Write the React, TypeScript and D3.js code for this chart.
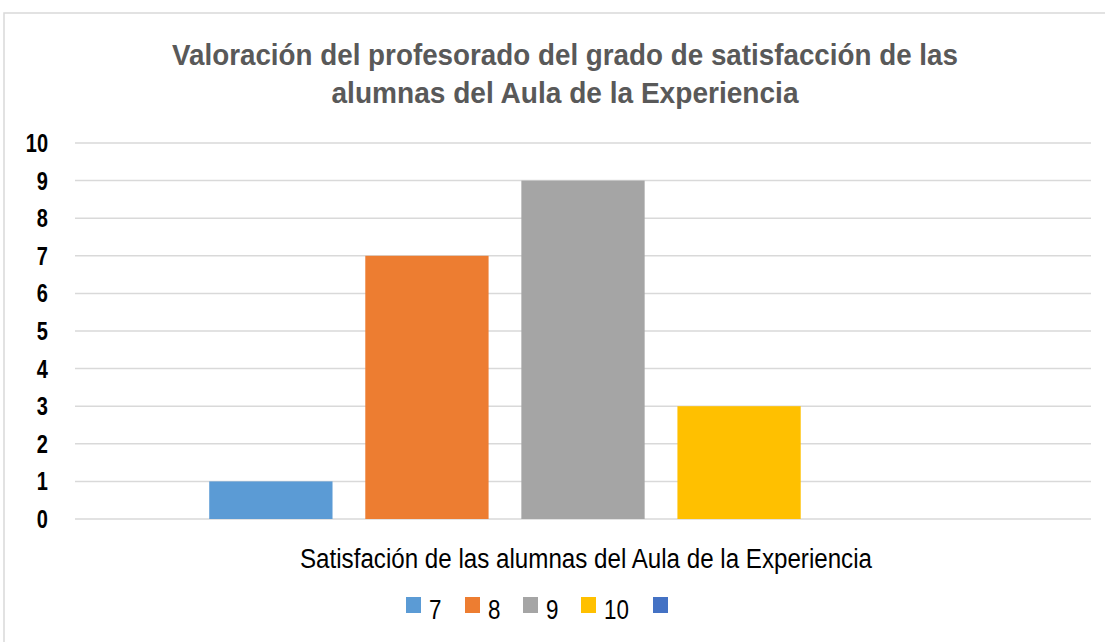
import React from "react";
import * as d3 from "d3";

const series = ["7", "8", "9", "10", ""];
const values = [1, 7, 9, 3, 0];
const colors = ["#5B9BD5", "#ED7D31", "#A5A5A5", "#FFC000", "#4472C4"];
const yTicks = [0, 1, 2, 3, 4, 5, 6, 7, 8, 9, 10];
const titleLines = [
  "Valoración del profesorado del grado de satisfacción de las",
  "alumnas del Aula de la Experiencia",
];
const titleWidths = [786, 467];
const xTitle = "Satisfación de las alumnas del Aula de la Experiencia";

const W = 1105;
const H = 642;
const plotLeft = 75;
const plotRight = 1091;
const plotTop = 143;
const plotBottom = 519;

export default function App() {
  const y = d3.scaleLinear().domain([0, 10]).range([plotBottom, plotTop]);
  const x = d3
    .scaleBand<string>()
    .domain(series.map((s, i) => String(i)))
    .range([plotLeft, plotRight])
    .paddingInner(0.21)
    .paddingOuter(0.86);

  const legendSquareX = [406, 465, 523, 581, 653];
  const font = "'Liberation Sans', Arial, sans-serif";

  return (
    <svg
      width={W}
      height={H}
      style={{ position: "absolute", left: 0, top: 0, display: "block" }}
    >
      <rect x={0} y={0} width={W} height={H} fill="#fff" />
      <rect x={4} y={13} width={W + 20} height={H + 20} fill="#fff" stroke="#d9d9d9" strokeWidth={1.5} />
      {titleLines.map((t, i) => (
        <text
          key={i}
          x={565 - titleWidths[i] / 2}
          y={65 + i * 38}
          textLength={titleWidths[i]}
          lengthAdjust="spacingAndGlyphs"
          fontFamily={font}
          fontWeight="bold"
          fontSize={30}
          fill="#595959"
        >
          {t}
        </text>
      ))}
      {yTicks.map((t) => (
        <g key={t}>
          <line x1={plotLeft} x2={plotRight} y1={y(t)} y2={y(t)} stroke="#d9d9d9" strokeWidth={1.5} />
          <g transform={`translate(48,${y(t)}) scale(0.8,1)`}>
            <text
              x={0}
              y={0}
              dy="0.36em"
              textAnchor="end"
              fontFamily={font}
              fontWeight="bold"
              fontSize={25}
              fill="#000"
            >
              {t}
            </text>
          </g>
        </g>
      ))}
      {values.map((v, i) => (
        <rect
          key={i}
          x={x(String(i))}
          y={y(v)}
          width={x.bandwidth()}
          height={plotBottom - y(v)}
          fill={colors[i]}
        />
      ))}
      <text
        x={300}
        y={568}
        textLength={572}
        lengthAdjust="spacingAndGlyphs"
        fontFamily={font}
        fontSize={27}
        fill="#000"
      >
        {xTitle}
      </text>
      {series.map((s, i) => (
        <g key={i}>
          <rect x={legendSquareX[i]} y={597} width={15} height={16} fill={colors[i]} />
          <g transform={`translate(${legendSquareX[i] + 23},619) scale(0.8,1)`}>
            <text x={0} y={0} fontFamily={font} fontSize={28} fill="#000">
              {s}
            </text>
          </g>
        </g>
      ))}
    </svg>
  );
}
